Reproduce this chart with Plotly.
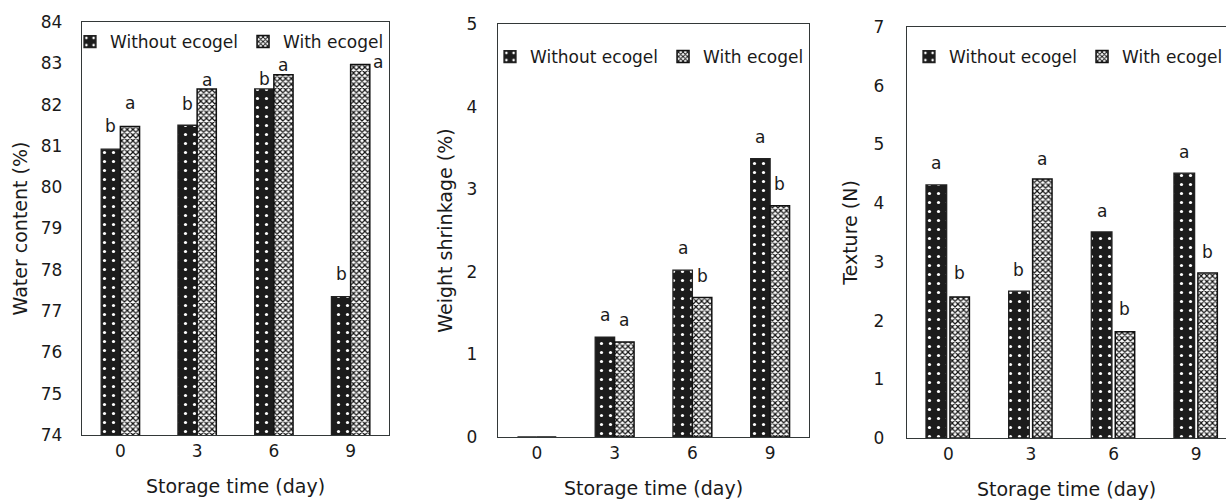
import plotly.graph_objects as go

# ---------------- data ----------------
days = ["0", "3", "6", "9"]
series_names = ["Without ecogel", "With ecogel"]

water_without = [80.92, 81.50, 82.38, 77.35]
water_with = [81.47, 82.38, 82.72, 82.97]
water_let_without = ["b", "b", "b", "b"]
water_let_with = ["a", "a", "a", "a"]

shrink_without = [0, 1.21, 2.02, 3.37]
shrink_with = [0, 1.15, 1.69, 2.80]
shrink_let_without = ["", "a", "a", "a"]
shrink_let_with = ["", "a", "b", "b"]

texture_without = [4.31, 2.50, 3.51, 4.51]
texture_with = [2.40, 4.41, 1.81, 2.81]
texture_let_without = ["a", "b", "a", "a"]
texture_let_with = ["b", "a", "b", "b"]

y_titles = ["Water content (%)", "Weight shrinkage (%)", "Texture (N)"]
x_title = "Storage time (day)"

# ---------------- style ----------------
W, H = 1226, 500
FONT = "DejaVu Sans"
TXT = "#1a1a1a"
LINE = "#333838"

def px_x(p):
    return p / W

def px_y(p):
    return 1 - p / H

panels = [
    dict(xd=(82, 389), yd=(22, 435), yr=(74, 84), xr=(-0.5, 3.5),
         wo=water_without, wi=water_with, lwo=water_let_without, lwi=water_let_with,
         offs=(-0.25, 0.0), widths=(0.25, 0.25), ystand=15, tstand=8, xstand=20,
         leg=(70, 42),
         shifts_wo=[(0, 23), (0, 21), (0, 10), (0, 23)],
         shifts_wi=[(0, 23), (0, 9), (0, 10), (18, 3)]),
    dict(xd=(498, 809), yd=(24, 437), yr=(0, 5), xr=(-0.5, 3.5),
         wo=shrink_without, wi=shrink_with, lwo=shrink_let_without, lwi=shrink_let_with,
         offs=(-0.25, 0.0), widths=(0.25, 0.25), ystand=16, tstand=8, xstand=20,
         leg=(490, 57),
         shifts_wo=[(0, 22), (0, 22), (0, 22), (0, 22)],
         shifts_wi=[(0, 22), (0, 22), (0, 21), (0, 22)]),
    dict(xd=(907, 1226), yd=(27, 438), yr=(0, 7), xr=(-0.5, 3.36),
         wo=texture_without, wi=texture_with, lwo=texture_let_without, lwi=texture_let_with,
         offs=(-0.27, 0.02), widths=(0.25, 0.235), ystand=18, tstand=10, xstand=21,
         leg=(909, 57),
         shifts_wo=[(0, 22), (0, 21), (0, 21), (0, 21)],
         shifts_wi=[(0, 24), (0, 20), (0, 23), (0, 21)]),
]

fig = go.Figure()
annotations = []
layout = dict(
    template="none",
    width=W, height=H,
    margin=dict(l=0, r=0, t=0, b=0, pad=0, autoexpand=False),
    paper_bgcolor="white", plot_bgcolor="white",
    font=dict(family=FONT, size=17, color=TXT),
    showlegend=True,
)

for k, p in enumerate(panels):
    sfx = "" if k == 0 else str(k + 1)
    xa, ya = "x" + sfx, "y" + sfx
    leg = "legend" + sfx
    black_marker = dict(
        color="#1c1c1c",
        line=dict(color="#222222", width=1.3),
        pattern=dict(shape=".", fgcolor="#ffffff", bgcolor="#1c1c1c", size=9, solidity=0.1),
    )
    hatch_marker = dict(
        color="white",
        line=dict(color="#111111", width=1.5),
        pattern=dict(shape="x", fgcolor="#111111", bgcolor="white", size=4, solidity=0.5),
    )
    for vals, marker, off, wd, name in [
        (p["wo"], black_marker, p["offs"][0], p["widths"][0], series_names[0]),
        (p["wi"], hatch_marker, p["offs"][1], p["widths"][1], series_names[1]),
    ]:
        fig.add_trace(go.Bar(
            x=days, y=vals, name=name, xaxis=xa, yaxis=ya,
            offset=off, width=wd, marker=marker, legend=leg,
            hoverinfo="skip",
        ))
    # significance letters
    for vals, lets, off, wd, shifts in [
        (p["wo"], p["lwo"], p["offs"][0], p["widths"][0], p["shifts_wo"]),
        (p["wi"], p["lwi"], p["offs"][1], p["widths"][1], p["shifts_wi"]),
    ]:
        for i, (v, l) in enumerate(zip(vals, lets)):
            if not l:
                continue
            annotations.append(dict(
                x=i + off + wd / 2, y=v, xref=xa, yref=ya, text=l,
                showarrow=False, xanchor="center", yanchor="middle",
                xshift=shifts[i][0], yshift=shifts[i][1],
                font=dict(family=FONT, size=17, color=TXT),
            ))
    last = k == 2
    layout["xaxis" + sfx] = dict(
        domain=[px_x(p["xd"][0]), px_x(p["xd"][1])], anchor=ya,
        type="category", range=list(p["xr"]), automargin=False,
        showline=True, linecolor=LINE, linewidth=1.3, mirror=True,
        ticks="", showgrid=False, zeroline=False,
        tickfont=dict(family=FONT, size=17, color=TXT),
        title=dict(text=x_title, font=dict(family=FONT, size=19, color=TXT), standoff=p["xstand"]),
        fixedrange=True,
    )
    layout["yaxis" + sfx] = dict(
        domain=[px_y(p["yd"][1]), px_y(p["yd"][0])], anchor=xa,
        range=list(p["yr"]), dtick=1, automargin=False,
        showline=True, linecolor=LINE, linewidth=1.3, mirror=(not last),
        ticks="", showgrid=False, zeroline=False,
        ticklabelstandoff=p["ystand"],
        tickfont=dict(family=FONT, size=17, color=TXT),
        title=dict(text=y_titles[k], font=dict(family=FONT, size=19, color=TXT), standoff=p["tstand"]),
        fixedrange=True,
    )
    layout[leg] = dict(
        orientation="h", x=px_x(p["leg"][0]), y=px_y(p["leg"][1]),
        xanchor="left", yanchor="middle",
        bgcolor="rgba(0,0,0,0)", borderwidth=0,
        font=dict(family=FONT, size=17, color=TXT),
        itemclick=False, itemdoubleclick=False,
        tracegroupgap=0,
    )

layout["annotations"] = annotations
layout["barmode"] = "group"
fig.update_layout(**layout)
fig.write_html(
    "out.html",
    config={"displayModeBar": False, "staticPlot": True},
    post_script="document.body.style.margin='0px';",
)
